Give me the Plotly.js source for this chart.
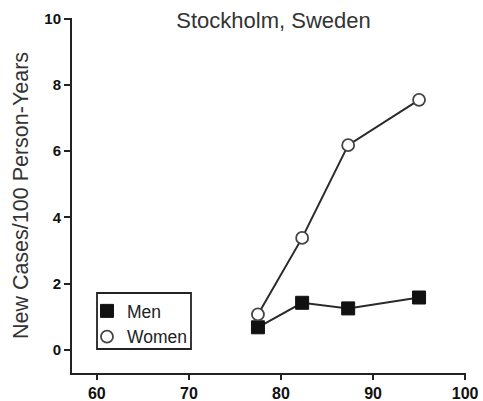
<!DOCTYPE html>
<html>
<head>
<meta charset="utf-8">
<script src="https://cdn.plot.ly/plotly-3.0.1.min.js"></script>
<style>html,body{margin:0;padding:0;background:#fff;}#chart{width:483px;height:401px;}</style>
</head>
<body>
<div id="chart"></div>
<script>
const ageX = [77.5, 82.3, 87.3, 95.0];
const menValues = [0.68, 1.42, 1.25, 1.58];
const womenValues = [1.07, 3.38, 6.18, 7.55];
const xTicks = [60, 70, 80, 90, 100];
const yTicks = [0, 2, 4, 6, 8, 10];
const seriesNames = ['Men', 'Women'];

const lineColor = '#2a2a2a';
const traces = [
  {x: ageX, y: menValues, mode: 'lines', line: {color: lineColor, width: 2}, showlegend: false, hoverinfo: 'skip'},
  {x: ageX, y: womenValues, mode: 'lines', line: {color: lineColor, width: 2}, showlegend: false, hoverinfo: 'skip'},
  {x: ageX, y: menValues, mode: 'markers', name: seriesNames[0],
   marker: {symbol: 'square', size: 13, color: '#111', line: {color: '#111', width: 1}}},
  {x: ageX, y: womenValues, mode: 'markers', name: seriesNames[1],
   marker: {symbol: 'circle', size: 12, color: '#fff', line: {color: '#444', width: 1.8}}}
];

const layout = {
  width: 483, height: 401,
  margin: {l: 72, r: 17, t: 18, b: 28, pad: 0},
  paper_bgcolor: '#fff', plot_bgcolor: '#fff',
  font: {family: 'Liberation Sans, Arial, sans-serif', color: '#222'},
  title: {text: 'Stockholm, Sweden', font: {size: 22, color: '#333'}, x: 273.5/483, xanchor: 'center', y: 1 - 20/401, yanchor: 'middle'},
  xaxis: {
    range: [57.3, 100.1], tickvals: xTicks, ticktext: xTicks.map(String),
    showgrid: false, zeroline: false, showline: true, linecolor: '#222', linewidth: 2,
    ticks: 'outside', ticklen: 5, tickwidth: 2, tickcolor: '#222',
    tickfont: {size: 16, weight: 'bold', color: '#111'}
  },
  yaxis: {
    range: [-0.7, 10.02], tickvals: yTicks, ticktext: yTicks.map(String),
    showgrid: false, zeroline: false, showline: true, linecolor: '#222', linewidth: 2,
    ticks: 'outside', ticklen: 6, tickwidth: 2, tickcolor: '#222',
    tickfont: {size: 15, weight: 'bold', color: '#111'},
    title: {text: 'New Cases/100 Person-Years', font: {size: 21.5, color: '#333'}, standoff: 10}
  },
  legend: {
    x: (87 - 72) / 394, y: (373 - 293) / 355, xanchor: 'left', yanchor: 'top',
    borderwidth: 0, bgcolor: 'rgba(0,0,0,0)',
    font: {size: 17.5, color: '#222'}, itemwidth: 30, tracegroupgap: 0
  },
  shapes: [{
    type: 'rect', xref: 'paper', yref: 'paper',
    x0: (97 - 72) / 394, x1: (191 - 72) / 394, y0: (373 - 349) / 355, y1: (373 - 293) / 355,
    line: {color: '#222', width: 1.8}, fillcolor: '#fff', layer: 'above'
  }],
  showlegend: true
};

Plotly.newPlot('chart', traces, layout, {displayModeBar: false, staticPlot: true});
</script>
</body>
</html>
